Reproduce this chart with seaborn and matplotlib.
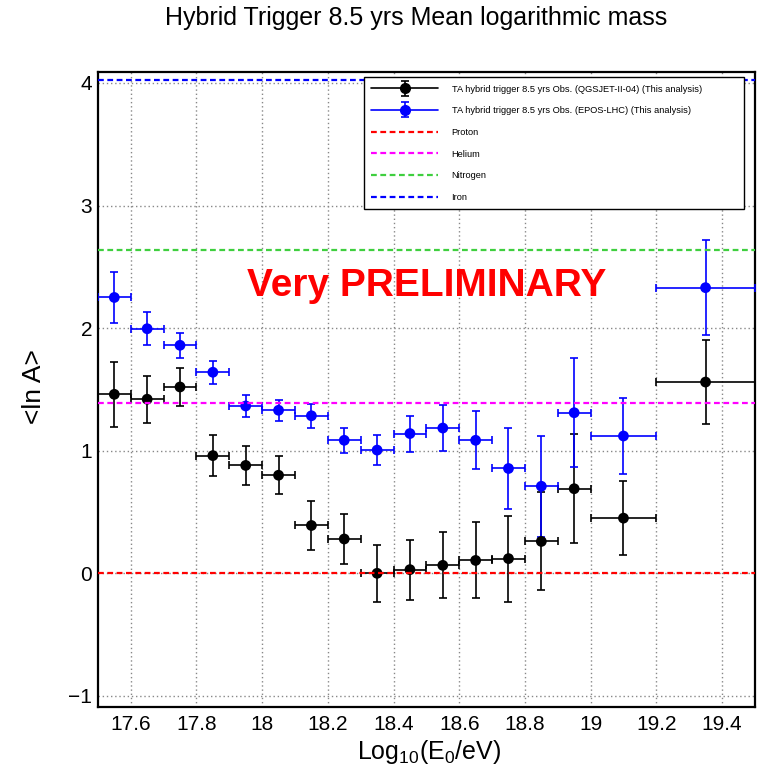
import numpy as np
import pandas as pd
import matplotlib
matplotlib.use("Agg")
import matplotlib.pyplot as plt
import seaborn as sns
from matplotlib.lines import Line2D
from matplotlib.container import ErrorbarContainer
from matplotlib.legend_handler import HandlerErrorbar, HandlerTuple
from matplotlib.ticker import MultipleLocator

# ---------------- data ----------------
log_energy = [17.55, 17.65, 17.75, 17.85, 17.95, 18.05, 18.15, 18.25, 18.35,
              18.45, 18.55, 18.65, 18.75, 18.85, 18.95, 19.10, 19.35]
energy_halfwidth = [0.05, 0.05, 0.05, 0.05, 0.05, 0.05, 0.05, 0.05, 0.05,
                    0.05, 0.05, 0.05, 0.05, 0.05, 0.05, 0.10, 0.15]

qgsjet_lnA = [1.46, 1.42, 1.52, 0.96, 0.88, 0.80, 0.39, 0.28, 0.00,
              0.03, 0.065, 0.105, 0.12, 0.26, 0.69, 0.45, 1.56]
qgsjet_err = [0.265, 0.19, 0.155, 0.17, 0.16, 0.155, 0.20, 0.20, 0.23,
              0.245, 0.27, 0.31, 0.35, 0.40, 0.445, 0.30, 0.345]

epos_lnA = [2.25, 1.995, 1.86, 1.64, 1.365, 1.33, 1.285, 1.085, 1.005,
            1.14, 1.185, 1.085, 0.855, 0.71, 1.31, 1.12, 2.33]
epos_err = [0.21, 0.135, 0.10, 0.092, 0.088, 0.085, 0.10, 0.10, 0.12,
            0.147, 0.19, 0.235, 0.33, 0.41, 0.445, 0.31, 0.386]

series_labels = ["TA hybrid trigger 8.5 yrs Obs. (QGSJET-II-04) (This analysis)",
                 "TA hybrid trigger 8.5 yrs Obs. (EPOS-LHC) (This analysis)"]
series_colors = ["#000000", "#0000ff"]

composition_names = ["Proton", "Helium", "Nitrogen", "Iron"]
composition_lnA = [0.0, 1.386, 2.639, 4.025]
composition_colors = ["#ff0000", "#ff00ff", "#3fcf3f", "#0000ff"]

x_ticks = [17.6, 17.8, 18.0, 18.2, 18.4, 18.6, 18.8, 19.0, 19.2, 19.4]
x_ticklabels = ["17.6", "17.8", "18", "18.2", "18.4", "18.6", "18.8", "19", "19.2", "19.4"]
y_ticks = [-1, 0, 1, 2, 3, 4]
y_ticklabels = ["\u22121", "0", "1", "2", "3", "4"]

# ---------------- style ----------------
sns.set_style("white")
plt.rcParams["font.family"] = ["Liberation Sans", "DejaVu Sans"]
plt.rcParams["mathtext.fontset"] = "custom"
plt.rcParams["mathtext.rm"] = "Liberation Sans"
plt.rcParams["mathtext.it"] = "Liberation Sans:italic"
plt.rcParams["legend.numpoints"] = 1
for key in ["text.color", "axes.labelcolor", "xtick.color", "ytick.color"]:
    plt.rcParams[key] = "black"

fig = plt.figure(figsize=(7.6, 7.71), dpi=100)
ax = fig.add_axes([0.1288, 0.0834, 0.8644, 0.8232])

df = pd.DataFrame({
    "logE": log_energy * 2,
    "lnA": qgsjet_lnA + epos_lnA,
    "model": ["QGSJET"] * len(log_energy) + ["EPOS"] * len(log_energy),
})

data_sets = [(qgsjet_lnA, qgsjet_err), (epos_lnA, epos_err)]
for i, (vals, errs) in enumerate(data_sets):
    ax.errorbar(log_energy, vals, xerr=energy_halfwidth, yerr=errs, fmt="none",
                ecolor=series_colors[i], elinewidth=1.2, capsize=2.6, capthick=1.2,
                zorder=2 + i)

sns.scatterplot(data=df, x="logE", y="lnA", hue="model",
                palette={"QGSJET": series_colors[0], "EPOS": series_colors[1]},
                s=60, marker="o", edgecolor="none", legend=False, ax=ax, zorder=5)

ref_lines = []
for name, val, col in zip(composition_names, composition_lnA, composition_colors):
    ln = ax.axhline(val, color=col, lw=1.6, ls=(0, (2.6, 1.6)), zorder=6, label=name)
    ref_lines.append(ln)

# axes
ax.set_xlim(17.5, 19.5)
ax.set_ylim(-1.088, 4.089)
ax.set_xticks(x_ticks)
ax.set_xticklabels(x_ticklabels)
ax.set_yticks(y_ticks)
ax.set_yticklabels(y_ticklabels)
ax.xaxis.set_minor_locator(MultipleLocator(0.05))
ax.yaxis.set_minor_locator(MultipleLocator(0.2))
ax.tick_params(axis="both", which="both", direction="in", colors="black",
               labelsize=15, width=1.0)
ax.tick_params(axis="x", which="major", length=10, pad=6)
ax.tick_params(axis="x", which="minor", length=5)
ax.tick_params(axis="y", which="major", length=15, pad=4)
ax.tick_params(axis="y", which="minor", length=9)
ax.tick_params(top=False, right=False, which="both")
for sp in ax.spines.values():
    sp.set_linewidth(1.6)
    sp.set_color("black")
ax.grid(True, which="major", color="#888888", lw=1.0, ls=(0, (1, 2)))
ax.set_axisbelow(True)

ax.set_xlabel(r"Log$_{10}$(E$_0$/eV)", fontsize=18, va="baseline")
ax.xaxis.set_label_coords(0.504, -0.083)
ax.set_ylabel("<ln A>", fontsize=19, va="center")
ax.yaxis.set_label_coords(-0.098, 0.505)

fig.text(0.547, 1 - 18 / 771, "Hybrid Trigger 8.5 yrs Mean logarithmic mass",
         ha="center", va="center", fontsize=18)

ax.text(18.5, 2.34, "Very PRELIMINARY", color="#ff0000", fontsize=28,
        fontweight="bold", ha="center", va="center", zorder=7)

# legend
handles = []
for col in series_colors:
    proxy = ax.errorbar([np.nan], [np.nan], yerr=[np.nan], fmt="o", color=col,
                        ecolor=col, ms=7, elinewidth=1.2, capsize=2.6, capthick=1.2)
    handles.append((Line2D([], [], color=col, lw=1.2), proxy))
handles += ref_lines
labels = series_labels + composition_names

leg = ax.legend(handles, labels, loc="upper left",
                bbox_to_anchor=(0.479, 0.733, 0.500, 0.167),
                bbox_transform=fig.transFigure, mode="expand", borderaxespad=0.0,
                fontsize=6.7, handlelength=7.2, handletextpad=1.4,
                labelspacing=1.36, borderpad=0.8, frameon=True, fancybox=False,
                edgecolor="black", framealpha=1.0,
                handler_map={ErrorbarContainer: HandlerErrorbar(xerr_size=0.5, yerr_size=0.8),
                             tuple: HandlerTuple(ndivide=1)})
leg.get_frame().set_linewidth(1.0)
leg.set_zorder(10)

fig.savefig("out.png", dpi=100)
